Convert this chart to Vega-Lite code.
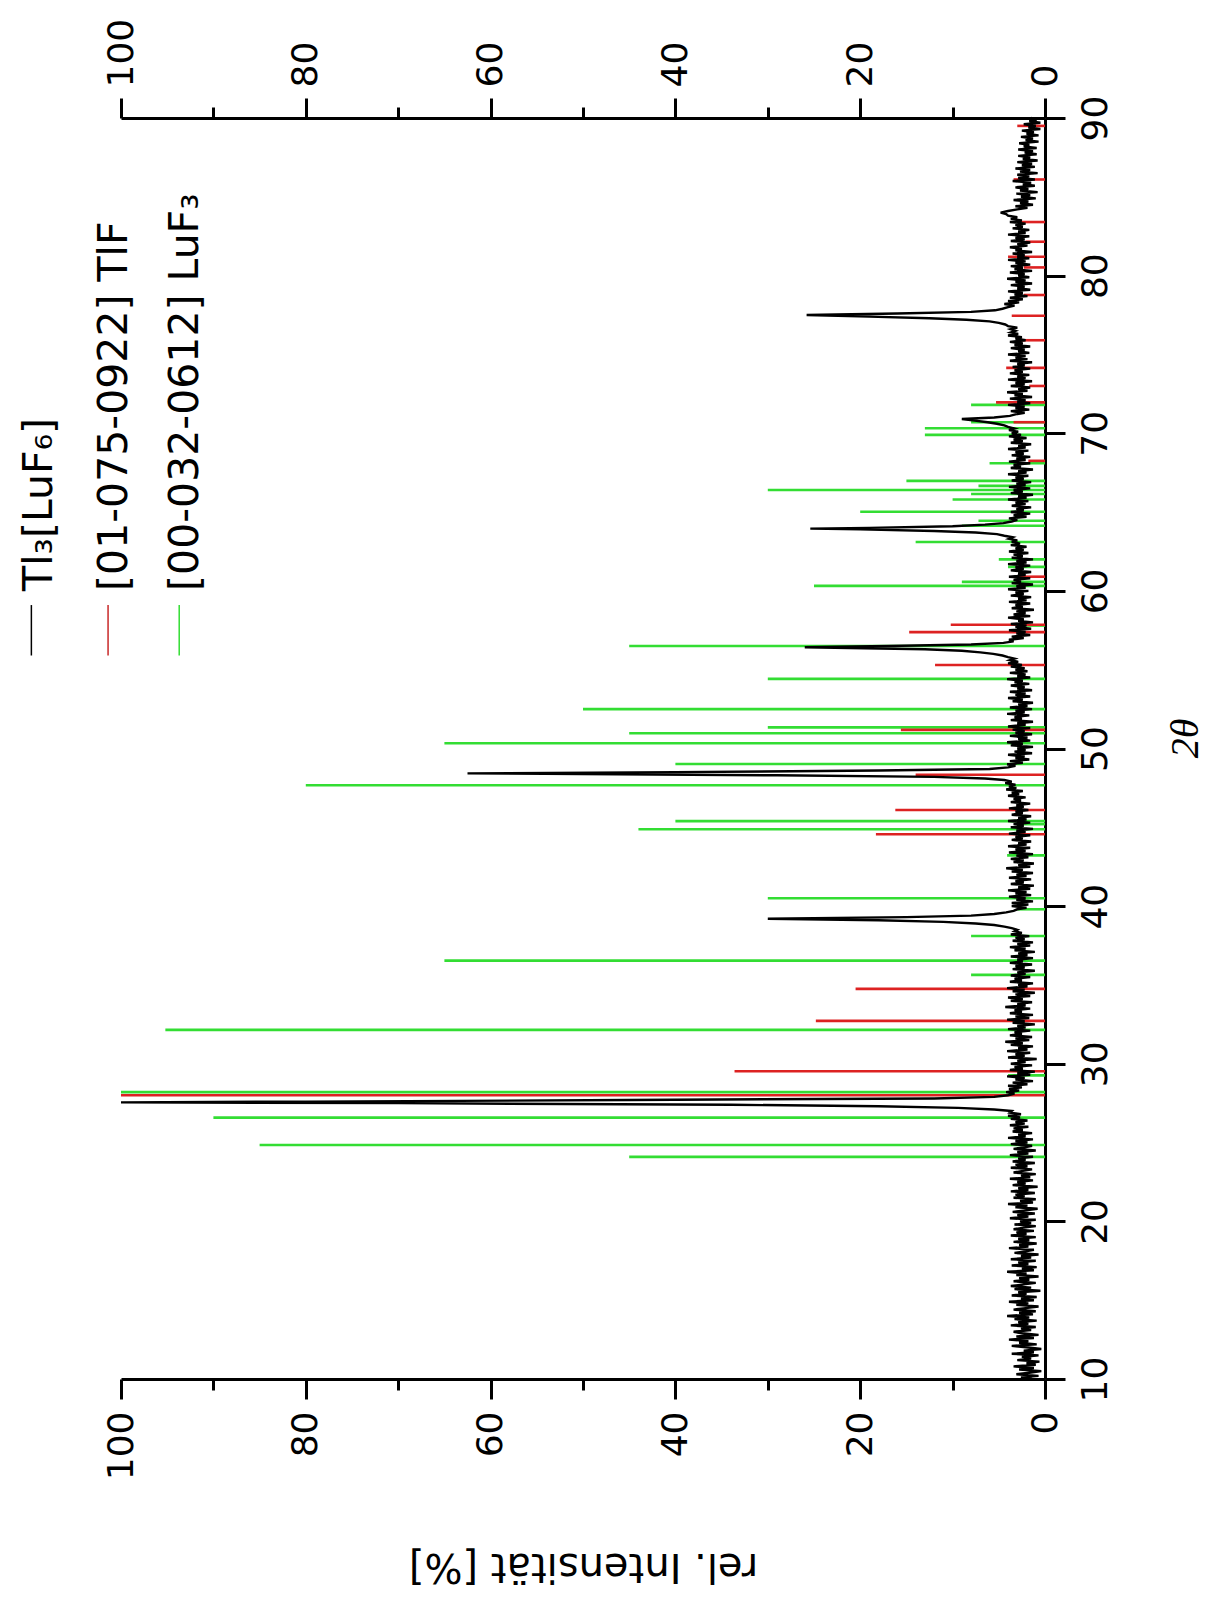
{
"$schema": "https://vega.github.io/schema/vega-lite/v6.json",
"width": 924, "height": 1261,
"autosize": "none",
"padding": {"left": 121, "top": 118, "right": 181, "bottom": 228},
"background": "white",
"config": {"view": {"stroke": null}, "axis": {"grid": false, "domainColor": "black", "domainWidth": 3, "tickColor": "black", "tickWidth": 3, "labelColor": "black", "labelFont": "DejaVu Sans", "labelFontSize": 36, "labelFlush": false, "labelOverlap": false, "titleColor": "black", "titleFontWeight": "normal"}},
"datasets": {
"luf": [{"t":24.09,"i":45},{"t":24.85,"i":85},{"t":26.58,"i":90},{"t":28.2,"i":100},{"t":29.26,"i":4},{"t":32.15,"i":95.2},{"t":35.64,"i":8},{"t":36.54,"i":65},{"t":38.1,"i":8},{"t":39.8,"i":3},{"t":40.5,"i":30},{"t":43.22,"i":4.1},{"t":44.88,"i":44},{"t":45.2,"i":3},{"t":45.39,"i":40},{"t":47.67,"i":80},{"t":49.02,"i":40},{"t":50.33,"i":65},{"t":50.97,"i":45},{"t":51.34,"i":30},{"t":52.5,"i":50},{"t":54.42,"i":30},{"t":56.5,"i":45},{"t":57.8,"i":2},{"t":60.32,"i":25},{"t":60.57,"i":9},{"t":61.52,"i":4},{"t":62.0,"i":5},{"t":63.1,"i":14},{"t":64.13,"i":9},{"t":64.45,"i":7.2},{"t":65.02,"i":20},{"t":65.8,"i":10},{"t":66.15,"i":8},{"t":66.4,"i":30},{"t":66.66,"i":7.2},{"t":66.98,"i":15},{"t":68.1,"i":6},{"t":69.9,"i":13},{"t":70.32,"i":13},{"t":70.7,"i":8},{"t":71.8,"i":8}],
"tlf": [{"t":28.0,"i":100},{"t":29.52,"i":33.6},{"t":32.72,"i":24.8},{"t":34.75,"i":20.5},{"t":44.56,"i":18.3},{"t":46.1,"i":16.2},{"t":48.33,"i":14},{"t":51.18,"i":15.6},{"t":55.3,"i":11.9},{"t":57.38,"i":14.7},{"t":57.85,"i":10.2},{"t":60.9,"i":3.1},{"t":68.25,"i":1.8},{"t":70.7,"i":3.4},{"t":71.96,"i":5.3},{"t":73.0,"i":1.7},{"t":74.15,"i":4.2},{"t":75.9,"i":2.8},{"t":77.45,"i":3.6},{"t":78.77,"i":2.3},{"t":80.52,"i":2.3},{"t":81.2,"i":4.0},{"t":82.15,"i":2.1},{"t":83.4,"i":2.8},{"t":86.1,"i":3.4},{"t":89.5,"i":3.0}],
"meas": [
{"t":10.0,"i":1.4},{"t":10.1,"i":2.6},{"t":10.2,"i":0.7},{"t":10.3,"i":3.1},{"t":10.4,"i":1.7},{"t":10.5,"i":0.4},{"t":10.6,"i":2.8},{"t":10.7,"i":1.2},{"t":10.8,"i":3.4},{"t":10.9,"i":1.0},
{"t":11.0,"i":2.0},{"t":11.1,"i":0.6},{"t":11.2,"i":3.0},{"t":11.3,"i":1.5},{"t":11.4,"i":2.5},{"t":11.5,"i":0.7},{"t":11.6,"i":3.6},{"t":11.7,"i":1.2},{"t":11.8,"i":2.3},{"t":11.9,"i":0.4},
{"t":12.0,"i":1.8},{"t":12.1,"i":3.6},{"t":12.2,"i":0.9},{"t":12.3,"i":2.8},{"t":12.4,"i":1.8},{"t":12.5,"i":3.9},{"t":12.6,"i":1.2},{"t":12.7,"i":3.1},{"t":12.8,"i":0.7},{"t":12.9,"i":2.5},
{"t":13.0,"i":3.4},{"t":13.1,"i":1.5},{"t":13.2,"i":2.6},{"t":13.3,"i":1.0},{"t":13.4,"i":3.7},{"t":13.5,"i":1.8},{"t":13.6,"i":2.9},{"t":13.7,"i":0.9},{"t":13.8,"i":3.3},{"t":13.9,"i":1.7},
{"t":14.0,"i":4.1},{"t":14.1,"i":1.3},{"t":14.2,"i":2.8},{"t":14.3,"i":1.0},{"t":14.4,"i":3.4},{"t":14.5,"i":2.1},{"t":14.6,"i":0.7},{"t":14.7,"i":3.1},{"t":14.8,"i":1.8},{"t":14.9,"i":3.9},
{"t":15.0,"i":1.2},{"t":15.1,"i":2.6},{"t":15.2,"i":0.9},{"t":15.3,"i":3.6},{"t":15.4,"i":2.0},{"t":15.5,"i":2.9},{"t":15.6,"i":0.5},{"t":15.7,"i":3.3},{"t":15.8,"i":1.5},{"t":15.9,"i":3.7},
{"t":16.0,"i":2.3},{"t":16.1,"i":1.0},{"t":16.2,"i":3.4},{"t":16.3,"i":1.7},{"t":16.4,"i":2.8},{"t":16.5,"i":0.7},{"t":16.6,"i":3.1},{"t":16.7,"i":2.0},{"t":16.8,"i":4.1},{"t":16.9,"i":1.2},
{"t":17.0,"i":2.5},{"t":17.1,"i":0.9},{"t":17.2,"i":3.6},{"t":17.3,"i":1.8},{"t":17.4,"i":2.9},{"t":17.5,"i":1.0},{"t":17.6,"i":3.7},{"t":17.7,"i":1.5},{"t":17.8,"i":2.6},{"t":17.9,"i":0.7},
{"t":18.0,"i":3.3},{"t":18.1,"i":2.1},{"t":18.2,"i":1.2},{"t":18.3,"i":3.9},{"t":18.4,"i":1.8},{"t":18.5,"i":2.8},{"t":18.6,"i":0.9},{"t":18.7,"i":3.4},{"t":18.8,"i":1.7},{"t":18.9,"i":2.9},
{"t":19.0,"i":1.0},{"t":19.1,"i":3.7},{"t":19.2,"i":2.0},{"t":19.3,"i":3.1},{"t":19.4,"i":1.2},{"t":19.5,"i":3.4},{"t":19.6,"i":2.3},{"t":19.7,"i":1.0},{"t":19.8,"i":3.3},{"t":19.9,"i":1.5},
{"t":20.0,"i":2.7},{"t":20.1,"i":1.0},{"t":20.2,"i":3.8},{"t":20.3,"i":1.8},{"t":20.4,"i":3.0},{"t":20.5,"i":1.1},{"t":20.6,"i":3.5},{"t":20.7,"i":2.1},{"t":20.8,"i":0.8},{"t":20.9,"i":3.2},
{"t":21.0,"i":1.9},{"t":21.1,"i":4.0},{"t":21.2,"i":1.3},{"t":21.3,"i":2.7},{"t":21.4,"i":1.0},{"t":21.5,"i":3.4},{"t":21.6,"i":2.2},{"t":21.7,"i":3.2},{"t":21.8,"i":1.1},{"t":21.9,"i":3.7},
{"t":22.0,"i":1.8},{"t":22.1,"i":2.9},{"t":22.2,"i":0.8},{"t":22.3,"i":3.5},{"t":22.4,"i":2.1},{"t":22.5,"i":3.0},{"t":22.6,"i":1.3},{"t":22.7,"i":3.8},{"t":22.8,"i":1.6},{"t":22.9,"i":2.6},
{"t":23.0,"i":1.0},{"t":23.1,"i":3.4},{"t":23.2,"i":2.4},{"t":23.3,"i":1.4},{"t":23.4,"i":3.7},{"t":23.5,"i":1.9},{"t":23.6,"i":3.2},{"t":23.7,"i":1.1},{"t":23.8,"i":3.5},{"t":23.9,"i":2.1},
{"t":24.0,"i":2.9},{"t":24.1,"i":1.3},{"t":24.2,"i":3.8},{"t":24.3,"i":1.8},{"t":24.4,"i":3.0},{"t":24.5,"i":1.0},{"t":24.6,"i":3.4},{"t":24.7,"i":2.2},{"t":24.8,"i":1.4},{"t":24.9,"i":3.7},
{"t":25.0,"i":1.9},{"t":25.1,"i":3.2},{"t":25.2,"i":1.3},{"t":25.3,"i":4.0},{"t":25.4,"i":2.1},{"t":25.5,"i":2.9},{"t":25.6,"i":1.4},{"t":25.7,"i":3.5},{"t":25.8,"i":2.4},{"t":25.9,"i":3.4},
{"t":26.0,"i":1.8},{"t":26.1,"i":3.8},{"t":26.2,"i":2.2},{"t":26.3,"i":3.2},{"t":26.4,"i":1.9},{"t":26.5,"i":3.7},{"t":26.6,"i":2.7},{"t":26.7,"i":4.0},{"t":26.8,"i":2.6},{"t":26.9,"i":3.8},
{"t":27.0,"i":3.6},{"t":27.1,"i":5.5},{"t":27.2,"i":9.4},{"t":27.3,"i":18},{"t":27.4,"i":34},{"t":27.5,"i":70},{"t":27.55,"i":100},{"t":27.6,"i":80},{"t":27.7,"i":45},{"t":27.8,"i":12},{"t":27.9,"i":5.5},
{"t":28.0,"i":4.0},{"t":28.1,"i":3.3},{"t":28.2,"i":4.2},{"t":28.3,"i":2.8},{"t":28.4,"i":3.9},{"t":28.5,"i":2.5},{"t":28.6,"i":4.0},{"t":28.7,"i":1.9},{"t":28.8,"i":3.5},{"t":28.9,"i":1.3},
{"t":29.0,"i":3.2},{"t":29.1,"i":2.2},{"t":29.2,"i":4.1},{"t":29.3,"i":1.6},{"t":29.4,"i":3.0},{"t":29.5,"i":1.1},{"t":29.6,"i":3.8},{"t":29.7,"i":2.4},{"t":29.8,"i":3.3},{"t":29.9,"i":1.4},
{"t":30.0,"i":3.7},{"t":30.1,"i":2.1},{"t":30.2,"i":3.0},{"t":30.3,"i":0.9},{"t":30.4,"i":4.0},{"t":30.5,"i":2.2},{"t":30.6,"i":3.2},{"t":30.7,"i":1.6},{"t":30.8,"i":4.1},{"t":30.9,"i":1.9},
{"t":31.0,"i":2.9},{"t":31.1,"i":1.3},{"t":31.2,"i":3.7},{"t":31.3,"i":2.4},{"t":31.4,"i":4.3},{"t":31.5,"i":1.7},{"t":31.6,"i":3.2},{"t":31.7,"i":1.4},{"t":31.8,"i":3.8},{"t":31.9,"i":2.5},
{"t":32.0,"i":3.3},{"t":32.1,"i":1.6},{"t":32.2,"i":4.0},{"t":32.3,"i":2.1},{"t":32.4,"i":3.0},{"t":32.5,"i":1.1},{"t":32.6,"i":3.5},{"t":32.7,"i":2.2},{"t":32.8,"i":4.1},{"t":32.9,"i":1.7},
{"t":33.0,"i":3.2},{"t":33.1,"i":1.3},{"t":33.2,"i":3.8},{"t":33.3,"i":2.5},{"t":33.4,"i":3.3},{"t":33.5,"i":1.6},{"t":33.6,"i":4.3},{"t":33.7,"i":2.1},{"t":33.8,"i":3.0},{"t":33.9,"i":1.4},
{"t":34.0,"i":3.7},{"t":34.1,"i":2.4},{"t":34.2,"i":4.0},{"t":34.3,"i":1.6},{"t":34.4,"i":3.2},{"t":34.5,"i":1.1},{"t":34.6,"i":3.5},{"t":34.7,"i":2.2},{"t":34.8,"i":4.1},{"t":34.9,"i":1.9},
{"t":35.0,"i":2.9},{"t":35.1,"i":1.3},{"t":35.2,"i":3.8},{"t":35.3,"i":2.5},{"t":35.4,"i":3.3},{"t":35.5,"i":1.6},{"t":35.6,"i":3.7},{"t":35.7,"i":2.1},{"t":35.8,"i":3.0},{"t":35.9,"i":1.1},
{"t":36.0,"i":3.5},{"t":36.1,"i":2.2},{"t":36.2,"i":3.2},{"t":36.3,"i":1.4},{"t":36.4,"i":3.8},{"t":36.5,"i":2.4},{"t":36.6,"i":3.0},{"t":36.7,"i":1.3},{"t":36.8,"i":3.7},{"t":36.9,"i":1.9},
{"t":37.0,"i":2.9},{"t":37.1,"i":1.1},{"t":37.2,"i":3.3},{"t":37.3,"i":2.1},{"t":37.4,"i":3.8},{"t":37.5,"i":1.6},{"t":37.6,"i":3.0},{"t":37.7,"i":1.3},{"t":37.8,"i":3.5},{"t":37.9,"i":2.2},
{"t":38.0,"i":3.2},{"t":38.1,"i":1.7},{"t":38.2,"i":3.7},{"t":38.3,"i":2.5},{"t":38.4,"i":3.3},{"t":38.5,"i":3.0},{"t":38.6,"i":3.6},{"t":38.7,"i":4.4},{"t":38.8,"i":5.5},{"t":38.9,"i":7.5},
{"t":39.0,"i":11},{"t":39.1,"i":18},{"t":39.2,"i":30},{"t":39.3,"i":15},{"t":39.4,"i":8},{"t":39.5,"i":5.5},{"t":39.6,"i":4.2},{"t":39.7,"i":3.4},{"t":39.8,"i":3.0},{"t":39.9,"i":2.0},
{"t":40.0,"i":3.6},{"t":40.1,"i":1.8},{"t":40.2,"i":3.6},{"t":40.3,"i":1.3},{"t":40.4,"i":3.1},{"t":40.5,"i":2.1},{"t":40.6,"i":3.9},{"t":40.7,"i":1.5},{"t":40.8,"i":3.2},{"t":40.9,"i":2.0},
{"t":41.0,"i":4.0},{"t":41.1,"i":1.6},{"t":41.2,"i":2.9},{"t":41.3,"i":1.2},{"t":41.4,"i":3.7},{"t":41.5,"i":2.3},{"t":41.6,"i":3.2},{"t":41.7,"i":1.5},{"t":41.8,"i":3.9},{"t":41.9,"i":2.0},
{"t":42.0,"i":3.1},{"t":42.1,"i":1.3},{"t":42.2,"i":3.6},{"t":42.3,"i":2.4},{"t":42.4,"i":4.2},{"t":42.5,"i":1.6},{"t":42.6,"i":2.9},{"t":42.7,"i":1.2},{"t":42.8,"i":3.4},{"t":42.9,"i":2.3},
{"t":43.0,"i":3.7},{"t":43.1,"i":1.8},{"t":43.2,"i":3.1},{"t":43.3,"i":1.3},{"t":43.4,"i":3.9},{"t":43.5,"i":2.1},{"t":43.6,"i":3.2},{"t":43.7,"i":1.6},{"t":43.8,"i":4.0},{"t":43.9,"i":2.0},
{"t":44.0,"i":2.9},{"t":44.1,"i":1.5},{"t":44.2,"i":3.6},{"t":44.3,"i":2.4},{"t":44.4,"i":3.2},{"t":44.5,"i":1.6},{"t":44.6,"i":3.9},{"t":44.7,"i":2.1},{"t":44.8,"i":3.1},{"t":44.9,"i":1.3},
{"t":45.0,"i":3.7},{"t":45.1,"i":2.3},{"t":45.2,"i":3.4},{"t":45.3,"i":1.6},{"t":45.4,"i":4.0},{"t":45.5,"i":2.0},{"t":45.6,"i":2.9},{"t":45.7,"i":1.5},{"t":45.8,"i":3.6},{"t":45.9,"i":2.4},
{"t":46.0,"i":3.2},{"t":46.1,"i":1.8},{"t":46.2,"i":3.9},{"t":46.3,"i":2.3},{"t":46.4,"i":3.1},{"t":46.5,"i":1.6},{"t":46.6,"i":3.7},{"t":46.7,"i":2.6},{"t":46.8,"i":3.4},{"t":46.9,"i":2.1},
{"t":47.0,"i":4.0},{"t":47.1,"i":2.8},{"t":47.2,"i":3.6},{"t":47.3,"i":2.4},{"t":47.4,"i":4.2},{"t":47.5,"i":3.1},{"t":47.6,"i":3.9},{"t":47.7,"i":3.2},{"t":47.8,"i":4.3},{"t":47.9,"i":3.6},
{"t":48.0,"i":4.4},{"t":48.1,"i":6.5},{"t":48.2,"i":12},{"t":48.3,"i":29},{"t":48.42,"i":62.5},{"t":48.5,"i":40},{"t":48.6,"i":18},{"t":48.7,"i":6},{"t":48.8,"i":4},{"t":48.9,"i":3.2},
{"t":49.0,"i":4.1},{"t":49.1,"i":2.4},{"t":49.2,"i":3.8},{"t":49.3,"i":1.7},{"t":49.4,"i":3.2},{"t":49.5,"i":2.2},{"t":49.6,"i":4.0},{"t":49.7,"i":1.4},{"t":49.8,"i":3.3},{"t":49.9,"i":2.1},
{"t":50.0,"i":3.0},{"t":50.1,"i":1.3},{"t":50.2,"i":3.7},{"t":50.3,"i":2.4},{"t":50.4,"i":4.1},{"t":50.5,"i":1.6},{"t":50.6,"i":2.9},{"t":50.7,"i":1.9},{"t":50.8,"i":3.8},{"t":50.9,"i":1.4},
{"t":51.0,"i":3.2},{"t":51.1,"i":2.2},{"t":51.2,"i":3.5},{"t":51.3,"i":1.6},{"t":51.4,"i":4.0},{"t":51.5,"i":2.1},{"t":51.6,"i":3.0},{"t":51.7,"i":1.3},{"t":51.8,"i":3.7},{"t":51.9,"i":2.5},
{"t":52.0,"i":3.3},{"t":52.1,"i":1.7},{"t":52.2,"i":4.1},{"t":52.3,"i":2.2},{"t":52.4,"i":3.2},{"t":52.5,"i":1.4},{"t":52.6,"i":3.8},{"t":52.7,"i":1.9},{"t":52.8,"i":2.9},{"t":52.9,"i":1.3},
{"t":53.0,"i":3.5},{"t":53.1,"i":2.4},{"t":53.2,"i":4.0},{"t":53.3,"i":1.6},{"t":53.4,"i":3.2},{"t":53.5,"i":2.1},{"t":53.6,"i":3.8},{"t":53.7,"i":1.4},{"t":53.8,"i":3.0},{"t":53.9,"i":2.2},
{"t":54.0,"i":3.7},{"t":54.1,"i":1.7},{"t":54.2,"i":3.3},{"t":54.3,"i":2.4},{"t":54.4,"i":4.1},{"t":54.5,"i":1.6},{"t":54.6,"i":3.0},{"t":54.7,"i":2.1},{"t":54.8,"i":3.8},{"t":54.9,"i":1.9},
{"t":55.0,"i":3.2},{"t":55.1,"i":2.2},{"t":55.2,"i":3.7},{"t":55.3,"i":2.5},{"t":55.4,"i":4.0},{"t":55.5,"i":2.9},{"t":55.6,"i":3.8},{"t":55.7,"i":3.3},{"t":55.8,"i":4.0},{"t":55.9,"i":4.6},
{"t":56.0,"i":5.6},{"t":56.1,"i":7},{"t":56.2,"i":9},{"t":56.3,"i":13},{"t":56.42,"i":26},{"t":56.5,"i":17},{"t":56.6,"i":8},{"t":56.7,"i":4.5},{"t":56.8,"i":3.4},{"t":56.9,"i":3.9},
{"t":57.0,"i":2.3},{"t":57.1,"i":3.6},{"t":57.2,"i":1.6},{"t":57.3,"i":3.1},{"t":57.4,"i":2.1},{"t":57.5,"i":3.9},{"t":57.6,"i":1.5},{"t":57.7,"i":3.2},{"t":57.8,"i":2.0},{"t":57.9,"i":3.7},
{"t":58.0,"i":1.3},{"t":58.1,"i":2.9},{"t":58.2,"i":2.3},{"t":58.3,"i":4.0},{"t":58.4,"i":1.6},{"t":58.5,"i":3.4},{"t":58.6,"i":2.1},{"t":58.7,"i":3.1},{"t":58.8,"i":1.2},{"t":58.9,"i":3.6},
{"t":59.0,"i":2.4},{"t":59.1,"i":3.2},{"t":59.2,"i":1.6},{"t":59.3,"i":3.9},{"t":59.4,"i":2.0},{"t":59.5,"i":2.9},{"t":59.6,"i":1.5},{"t":59.7,"i":3.7},{"t":59.8,"i":2.3},{"t":59.9,"i":3.2},
{"t":60.0,"i":1.8},{"t":60.1,"i":4.0},{"t":60.2,"i":2.1},{"t":60.3,"i":3.1},{"t":60.4,"i":1.3},{"t":60.5,"i":3.6},{"t":60.6,"i":2.6},{"t":60.7,"i":3.4},{"t":60.8,"i":1.6},{"t":60.9,"i":3.9},
{"t":61.0,"i":2.1},{"t":61.1,"i":2.9},{"t":61.2,"i":1.5},{"t":61.3,"i":3.7},{"t":61.4,"i":2.3},{"t":61.5,"i":3.2},{"t":61.6,"i":1.6},{"t":61.7,"i":4.0},{"t":61.8,"i":2.0},{"t":61.9,"i":3.1},
{"t":62.0,"i":1.3},{"t":62.1,"i":3.6},{"t":62.2,"i":2.4},{"t":62.3,"i":3.4},{"t":62.4,"i":1.8},{"t":62.5,"i":3.9},{"t":62.6,"i":2.3},{"t":62.7,"i":3.2},{"t":62.8,"i":2.0},{"t":62.9,"i":3.7},
{"t":63.0,"i":2.7},{"t":63.1,"i":3.6},{"t":63.2,"i":3.0},{"t":63.3,"i":3.9},{"t":63.4,"i":3.5},{"t":63.5,"i":4.4},{"t":63.6,"i":5.2},{"t":63.7,"i":7.5},{"t":63.8,"i":12},{"t":63.9,"i":20},
{"t":63.95,"i":25.4},{"t":64.0,"i":19},{"t":64.1,"i":10},{"t":64.2,"i":6.5},{"t":64.3,"i":4.5},{"t":64.4,"i":3.6},{"t":64.5,"i":3.0},{"t":64.6,"i":3.9},{"t":64.7,"i":2.0},{"t":64.8,"i":3.4},{"t":64.9,"i":1.6},
{"t":65.0,"i":3.7},{"t":65.1,"i":2.3},{"t":65.2,"i":3.1},{"t":65.3,"i":1.5},{"t":65.4,"i":3.6},{"t":65.5,"i":2.1},{"t":65.6,"i":3.2},{"t":65.7,"i":1.8},{"t":65.8,"i":4.0},{"t":65.9,"i":2.0},
{"t":66.0,"i":2.9},{"t":66.1,"i":1.3},{"t":66.2,"i":3.7},{"t":66.3,"i":2.4},{"t":66.4,"i":3.4},{"t":66.5,"i":1.6},{"t":66.6,"i":3.9},{"t":66.7,"i":2.1},{"t":66.8,"i":3.1},{"t":66.9,"i":1.5},
{"t":67.0,"i":3.6},{"t":67.1,"i":2.3},{"t":67.2,"i":3.2},{"t":67.3,"i":1.8},{"t":67.4,"i":4.0},{"t":67.5,"i":2.0},{"t":67.6,"i":2.9},{"t":67.7,"i":1.3},{"t":67.8,"i":3.7},{"t":67.9,"i":2.6},
{"t":68.0,"i":3.4},{"t":68.1,"i":1.6},{"t":68.2,"i":3.9},{"t":68.3,"i":2.1},{"t":68.4,"i":3.1},{"t":68.5,"i":1.6},{"t":68.6,"i":3.6},{"t":68.7,"i":2.3},{"t":68.8,"i":3.2},{"t":68.9,"i":1.8},
{"t":69.0,"i":4.0},{"t":69.1,"i":2.1},{"t":69.2,"i":2.9},{"t":69.3,"i":1.5},{"t":69.4,"i":3.7},{"t":69.5,"i":2.4},{"t":69.6,"i":3.4},{"t":69.7,"i":2.0},{"t":69.8,"i":3.9},{"t":69.9,"i":2.6},
{"t":70.0,"i":3.6},{"t":70.1,"i":2.9},{"t":70.2,"i":3.9},{"t":70.3,"i":3.3},{"t":70.4,"i":4.0},{"t":70.5,"i":4.4},{"t":70.6,"i":5.2},{"t":70.7,"i":6.2},{"t":70.8,"i":7.6},{"t":70.9,"i":9.0},
{"t":71.0,"i":5.5},{"t":71.1,"i":3.8},{"t":71.2,"i":3.2},{"t":71.3,"i":2.2},{"t":71.4,"i":3.7},{"t":71.5,"i":1.7},{"t":71.6,"i":3.2},{"t":71.7,"i":2.2},{"t":71.8,"i":4.0},{"t":71.9,"i":1.6},
{"t":72.0,"i":3.0},{"t":72.1,"i":2.1},{"t":72.2,"i":3.8},{"t":72.3,"i":1.4},{"t":72.4,"i":3.3},{"t":72.5,"i":2.4},{"t":72.6,"i":4.1},{"t":72.7,"i":1.9},{"t":72.8,"i":2.9},{"t":72.9,"i":1.6},
{"t":73.0,"i":3.7},{"t":73.1,"i":2.2},{"t":73.2,"i":3.2},{"t":73.3,"i":1.4},{"t":73.4,"i":4.0},{"t":73.5,"i":2.1},{"t":73.6,"i":3.0},{"t":73.7,"i":1.7},{"t":73.8,"i":3.8},{"t":73.9,"i":2.4},
{"t":74.0,"i":3.3},{"t":74.1,"i":1.6},{"t":74.2,"i":3.5},{"t":74.3,"i":2.2},{"t":74.4,"i":3.0},{"t":74.5,"i":1.4},{"t":74.6,"i":3.8},{"t":74.7,"i":1.9},{"t":74.8,"i":3.2},{"t":74.9,"i":2.1},
{"t":75.0,"i":4.0},{"t":75.1,"i":1.7},{"t":75.2,"i":2.9},{"t":75.3,"i":2.2},{"t":75.4,"i":3.7},{"t":75.5,"i":1.6},{"t":75.6,"i":3.3},{"t":75.7,"i":2.4},{"t":75.8,"i":3.8},{"t":75.9,"i":2.1},
{"t":76.0,"i":3.2},{"t":76.1,"i":2.5},{"t":76.2,"i":4.0},{"t":76.3,"i":2.9},{"t":76.4,"i":3.7},{"t":76.5,"i":3.2},{"t":76.6,"i":3.7},{"t":76.7,"i":3.0},{"t":76.8,"i":4.0},{"t":76.9,"i":4.3},
{"t":77.0,"i":5.0},{"t":77.1,"i":6.0},{"t":77.2,"i":8.5},{"t":77.3,"i":12.5},{"t":77.4,"i":19},{"t":77.5,"i":25.8},{"t":77.6,"i":16},{"t":77.7,"i":8},{"t":77.8,"i":5.4},{"t":77.9,"i":4.6},
{"t":78.0,"i":4.0},{"t":78.1,"i":3.3},{"t":78.2,"i":4.4},{"t":78.3,"i":2.8},{"t":78.4,"i":4.0},{"t":78.5,"i":2.4},{"t":78.6,"i":3.8},{"t":78.7,"i":1.9},{"t":78.8,"i":3.3},{"t":78.9,"i":2.4},
{"t":79.0,"i":4.0},{"t":79.1,"i":1.6},{"t":79.2,"i":3.0},{"t":79.3,"i":2.2},{"t":79.4,"i":3.7},{"t":79.5,"i":1.4},{"t":79.6,"i":3.2},{"t":79.7,"i":2.1},{"t":79.8,"i":4.1},{"t":79.9,"i":1.7},
{"t":80.0,"i":2.9},{"t":80.1,"i":2.2},{"t":80.2,"i":3.8},{"t":80.3,"i":1.4},{"t":80.4,"i":3.3},{"t":80.5,"i":2.4},{"t":80.6,"i":3.7},{"t":80.7,"i":1.6},{"t":80.8,"i":3.2},{"t":80.9,"i":2.1},
{"t":81.0,"i":4.0},{"t":81.1,"i":1.7},{"t":81.2,"i":3.0},{"t":81.3,"i":2.2},{"t":81.4,"i":3.5},{"t":81.5,"i":1.4},{"t":81.6,"i":3.2},{"t":81.7,"i":2.5},{"t":81.8,"i":3.8},{"t":81.9,"i":1.9},
{"t":82.0,"i":3.0},{"t":82.1,"i":1.6},{"t":82.2,"i":3.7},{"t":82.3,"i":2.2},{"t":82.4,"i":3.2},{"t":82.5,"i":1.7},{"t":82.6,"i":4.0},{"t":82.7,"i":2.1},{"t":82.8,"i":2.9},{"t":82.9,"i":1.7},
{"t":83.0,"i":3.5},{"t":83.1,"i":2.4},{"t":83.2,"i":3.2},{"t":83.3,"i":2.1},{"t":83.4,"i":3.8},{"t":83.5,"i":2.5},{"t":83.6,"i":3.7},{"t":83.7,"i":3.0},{"t":83.8,"i":4.0},{"t":83.9,"i":4.2},
{"t":84.0,"i":4.8},{"t":84.1,"i":4.0},{"t":84.2,"i":3.0},{"t":84.3,"i":1.9},{"t":84.4,"i":3.2},{"t":84.5,"i":1.3},{"t":84.6,"i":2.7},{"t":84.7,"i":1.8},{"t":84.8,"i":3.4},{"t":84.9,"i":1.0},
{"t":85.0,"i":2.6},{"t":85.1,"i":1.6},{"t":85.2,"i":3.1},{"t":85.3,"i":0.8},{"t":85.4,"i":2.7},{"t":85.5,"i":1.8},{"t":85.6,"i":3.2},{"t":85.7,"i":1.1},{"t":85.8,"i":2.4},{"t":85.9,"i":1.5},
{"t":86.0,"i":3.5},{"t":86.1,"i":1.1},{"t":86.2,"i":2.9},{"t":86.3,"i":1.7},{"t":86.4,"i":3.0},{"t":86.5,"i":0.8},{"t":86.6,"i":2.7},{"t":86.7,"i":1.6},{"t":86.8,"i":3.2},{"t":86.9,"i":1.1},
{"t":87.0,"i":2.5},{"t":87.1,"i":1.4},{"t":87.2,"i":3.0},{"t":87.3,"i":0.8},{"t":87.4,"i":2.4},{"t":87.5,"i":1.6},{"t":87.6,"i":2.9},{"t":87.7,"i":0.9},{"t":87.8,"i":2.2},{"t":87.9,"i":1.3},
{"t":88.0,"i":2.9},{"t":88.1,"i":0.9},{"t":88.2,"i":2.3},{"t":88.3,"i":1.7},{"t":88.4,"i":2.8},{"t":88.5,"i":0.7},{"t":88.6,"i":2.1},{"t":88.7,"i":1.3},{"t":88.8,"i":2.6},{"t":88.9,"i":0.7},
{"t":89.0,"i":2.0},{"t":89.1,"i":1.2},{"t":89.2,"i":2.5},{"t":89.3,"i":0.5},{"t":89.4,"i":1.8},{"t":89.5,"i":1.0},{"t":89.6,"i":2.3},{"t":89.7,"i":0.5},{"t":89.8,"i":1.7},{"t":89.9,"i":0.9},{"t":90.0,"i":1.5}
]
},
"layer": [
{"data": {"name": "luf"}, "mark": {"type": "rule", "color": "#33dd33", "strokeWidth": 2.6},
 "encoding": {
  "x": {"field": "i", "type": "quantitative", "scale": {"domain": [0, 100], "reverse": true, "nice": false, "zero": false},
        "axis": {"orient": "bottom", "values": [10, 30, 50, 70, 90], "labels": false, "domain": false, "tickSize": 11, "title": null}},
  "x2": {"datum": 0},
  "y": {"field": "t", "type": "quantitative", "scale": {"domain": [10, 90], "nice": false, "zero": false}, "axis": null}}},
{"data": {"name": "tlf"}, "mark": {"type": "rule", "color": "#dd2222", "strokeWidth": 2.6},
 "encoding": {
  "x": {"field": "i", "type": "quantitative", "scale": {"domain": [0, 100], "reverse": true, "nice": false, "zero": false},
        "axis": {"orient": "top", "values": [10, 30, 50, 70, 90], "labels": false, "domain": false, "tickSize": 11, "title": null}},
  "x2": {"datum": 0},
  "y": {"field": "t", "type": "quantitative", "scale": {"domain": [10, 90], "nice": false, "zero": false}, "axis": null}}},
{"data": {"name": "meas"}, "mark": {"type": "line", "color": "black", "strokeWidth": 2.4},
 "encoding": {
  "x": {"field": "i", "type": "quantitative", "scale": {"domain": [0, 100], "reverse": true, "nice": false, "zero": false},
        "axis": {"orient": "bottom", "values": [0, 20, 40, 60, 80, 100], "tickSize": 20, "labelAngle": -90, "labelAlign": "right", "labelBaseline": "middle", "labelPadding": 12,
                 "title": "rel. Intensität [%]", "titleAngle": 180, "titleBaseline": "bottom", "titleFont": "DejaVu Sans", "titleFontSize": 40, "titlePadding": 66}},
  "y": {"field": "t", "type": "quantitative", "scale": {"domain": [10, 90], "nice": false, "zero": false},
        "axis": {"orient": "right", "values": [10, 20, 30, 40, 50, 60, 70, 80, 90], "tickSize": 20, "labelAngle": -90, "labelAlign": "center", "labelBaseline": "top", "labelPadding": 13,
                 "title": "2θ", "titleAngle": -90, "titleBaseline": "top", "titleFont": "Liberation Serif", "titleFontStyle": "italic", "titleFontSize": 40, "titlePadding": 52, "titleY": 620}},
  "order": {"field": "t", "type": "quantitative"}}},
{"data": {"values": [{"s": "Tl₃[LuF₆]"}]}, "mark": {"type": "rule", "color": "black", "strokeWidth": 1.5},
 "encoding": {
  "x": {"datum": 109.7, "type": "quantitative", "scale": {"domain": [0, 100], "reverse": true, "nice": false, "zero": false},
        "axis": {"orient": "top", "values": [0, 20, 40, 60, 80, 100], "tickSize": 20, "labelAngle": -90, "labelAlign": "left", "labelBaseline": "middle", "labelPadding": 11, "title": null}},
  "y": {"datum": 55.9, "type": "quantitative", "scale": {"domain": [10, 90], "nice": false, "zero": false}, "axis": null},
  "y2": {"datum": 59.1}}},
{"data": {"values": [{"s": "[01-075-0922] TlF"}]}, "mark": {"type": "rule", "color": "#c82828", "strokeWidth": 1.5},
 "encoding": {
  "x": {"datum": 101.4, "type": "quantitative", "scale": {"domain": [0, 100], "reverse": true, "nice": false, "zero": false}, "axis": null},
  "y": {"datum": 55.9, "type": "quantitative", "scale": {"domain": [10, 90], "nice": false, "zero": false}, "axis": null},
  "y2": {"datum": 59.1}}},
{"data": {"values": [{"s": "[00-032-0612] LuF₃"}]}, "mark": {"type": "rule", "color": "#33dd33", "strokeWidth": 1.5},
 "encoding": {
  "x": {"datum": 93.7, "type": "quantitative", "scale": {"domain": [0, 100], "reverse": true, "nice": false, "zero": false}, "axis": null},
  "y": {"datum": 55.9, "type": "quantitative", "scale": {"domain": [10, 90], "nice": false, "zero": false}, "axis": null},
  "y2": {"datum": 59.1}}},
{"data": {"values": [{"s": "Tl₃[LuF₆]"}]}, "mark": {"type": "text", "angle": -90, "align": "left", "baseline": "middle", "font": "DejaVu Sans", "fontSize": 41, "color": "black"},
 "encoding": {
  "x": {"datum": 108.8, "type": "quantitative", "scale": {"domain": [0, 100], "reverse": true, "nice": false, "zero": false}, "axis": null},
  "y": {"datum": 60.0, "type": "quantitative", "scale": {"domain": [10, 90], "nice": false, "zero": false}, "axis": null},
  "text": {"field": "s"}}},
{"data": {"values": [{"s": "[01-075-0922] TlF"}]}, "mark": {"type": "text", "angle": -90, "align": "left", "baseline": "middle", "font": "DejaVu Sans", "fontSize": 41, "color": "black"},
 "encoding": {
  "x": {"datum": 100.6, "type": "quantitative", "scale": {"domain": [0, 100], "reverse": true, "nice": false, "zero": false}, "axis": null},
  "y": {"datum": 60.0, "type": "quantitative", "scale": {"domain": [10, 90], "nice": false, "zero": false}, "axis": null},
  "text": {"field": "s"}}},
{"data": {"values": [{"s": "[00-032-0612] LuF₃"}]}, "mark": {"type": "text", "angle": -90, "align": "left", "baseline": "middle", "font": "DejaVu Sans", "fontSize": 41, "color": "black"},
 "encoding": {
  "x": {"datum": 93.0, "type": "quantitative", "scale": {"domain": [0, 100], "reverse": true, "nice": false, "zero": false}, "axis": null},
  "y": {"datum": 60.0, "type": "quantitative", "scale": {"domain": [10, 90], "nice": false, "zero": false}, "axis": null},
  "text": {"field": "s"}}}
],
"resolve": {"axis": {"x": "independent", "y": "independent"}}
}
